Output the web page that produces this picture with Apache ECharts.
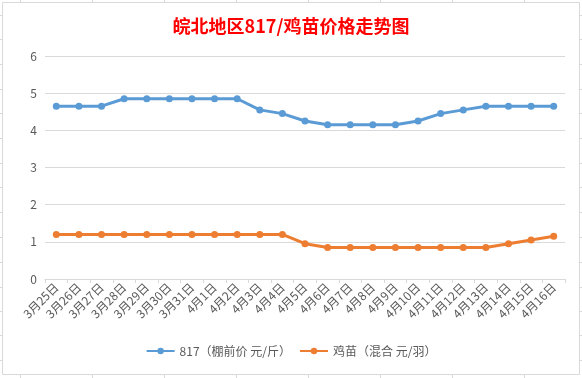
<!DOCTYPE html>
<html>
<head>
<meta charset="utf-8">
<script src="https://cdn.jsdelivr.net/npm/echarts@6/dist/echarts.min.js"></script>
<style>
html,body{margin:0;padding:0;background:#fff;}
#c{width:582px;height:378px;}
</style>
</head>
<body>
<div id="c"></div>
<script>
var categories = ['3月25日','3月26日','3月27日','3月28日','3月29日','3月30日','3月31日',
  '4月1日','4月2日','4月3日','4月4日','4月5日','4月6日','4月7日','4月8日','4月9日',
  '4月10日','4月11日','4月12日','4月13日','4月14日','4月15日','4月16日'];
var price817 = [4.65,4.65,4.65,4.85,4.85,4.85,4.85,4.85,4.85,4.55,4.45,4.25,4.15,4.15,4.15,4.15,4.25,4.45,4.55,4.65,4.65,4.65,4.65];
var chickPrice = [1.2,1.2,1.2,1.2,1.2,1.2,1.2,1.2,1.2,1.2,1.2,0.95,0.85,0.85,0.85,0.85,0.85,0.85,0.85,0.85,0.95,1.05,1.15];
var seriesNames = ['817（棚前价 元/斤）','鸡苗（混合 元/羽）'];
var titleText = '皖北地区817/鸡苗价格走势图';

var font = '"Noto Sans CJK SC", "Noto Sans", sans-serif';
var deco = [];
var gridStyle = {stroke:'#d9d9d9', lineWidth:1};
deco.push({type:'rect', shape:{x:2.5,y:2.5,width:577,height:372}, style:{fill:'none', stroke:'#d9d9d9', lineWidth:1}, silent:true});
var cols = [20.5,92.5,164.5,236.5,308.5,380.5,452.5,524.5];
cols.forEach(function(x){
  deco.push({type:'line', shape:{x1:x,y1:0,x2:x,y2:2}, style:gridStyle, silent:true});
  deco.push({type:'line', shape:{x1:x,y1:375,x2:x,y2:378}, style:gridStyle, silent:true});
});
var rows = [15.5,39.5,64.5,89.5,113.5,138.5,163.5,187.5,212.5,237.5,262.5,287.5,311.5,335.5,360.5];
rows.forEach(function(y){
  deco.push({type:'line', shape:{x1:0,y1:y,x2:2,y2:y}, style:gridStyle, silent:true});
  deco.push({type:'line', shape:{x1:580,y1:y,x2:582,y2:y}, style:gridStyle, silent:true});
});

var chart = echarts.init(document.getElementById('c'), null, {renderer:'canvas'});
chart.setOption({
  backgroundColor:'#ffffff',
  animation:false,
  title:{
    text:titleText, left:'center', top:12,
    textStyle:{color:'#ff0000', fontSize:18, fontWeight:'bold', fontFamily:font}
  },
  legend:{
    bottom:16, left:'center', itemWidth:28, itemHeight:8, itemGap:8,
    textStyle:{color:'#595959', fontSize:12, fontFamily:font},
    data:seriesNames
  },
  grid:{left:45, right:17, top:56, bottom:99, containLabel:false},
  xAxis:{
    type:'category', data:categories, boundaryGap:true,
    axisLine:{lineStyle:{color:'#d9d9d9', width:1}},
    axisTick:{show:true, alignWithLabel:false, length:4, lineStyle:{color:'#d9d9d9'}},
    axisLabel:{rotate:45, interval:0, margin:6, color:'#595959', fontSize:12, fontFamily:font}
  },
  yAxis:{
    type:'value', min:0, max:6, interval:1,
    axisLine:{show:false}, axisTick:{show:false},
    splitLine:{lineStyle:{color:'#d9d9d9', width:1}},
    axisLabel:{color:'#595959', fontSize:12, margin:8, fontFamily:font}
  },
  series:[
    {name:seriesNames[0], type:'line', data:price817, symbol:'circle', symbolSize:7,
     lineStyle:{color:'#5b9bd5', width:3}, itemStyle:{color:'#5b9bd5'}},
    {name:seriesNames[1], type:'line', data:chickPrice, symbol:'circle', symbolSize:7,
     lineStyle:{color:'#ed7d31', width:3}, itemStyle:{color:'#ed7d31'}}
  ],
  graphic:deco
});
</script>
</body>
</html>
